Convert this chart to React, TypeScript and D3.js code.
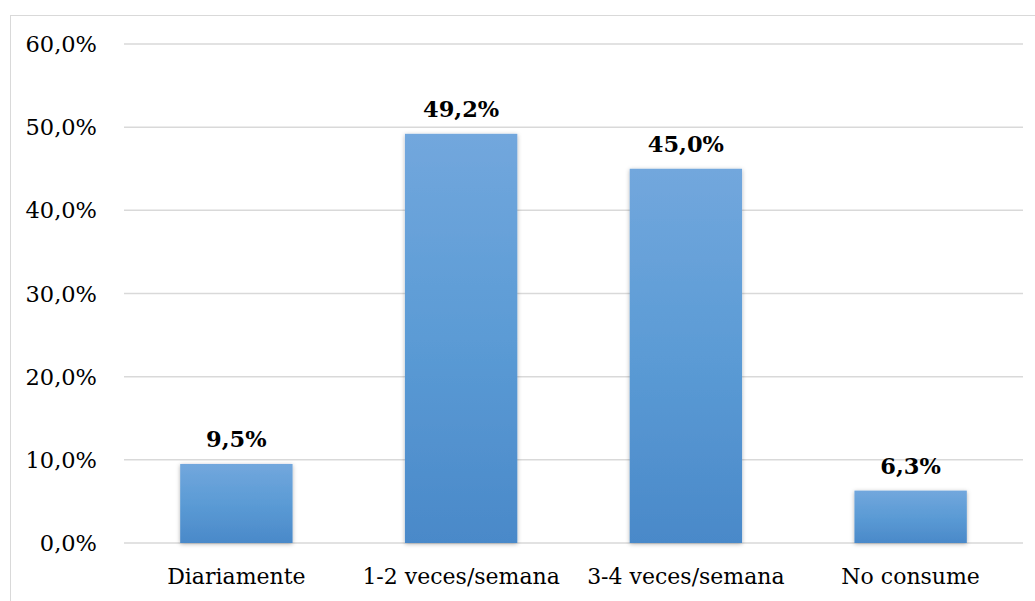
import React from "react";
import * as d3 from "d3";

const categories = ["Diariamente", "1-2 veces/semana", "3-4 veces/semana", "No consume"];
const values = [9.5, 49.2, 45.0, 6.3];
const yTicks = [0, 10, 20, 30, 40, 50, 60];

const W = 1035;
const H = 601;
const fmt = (v: number, d: number) => v.toFixed(d).replace(".", ",") + "%";

export default function App() {
  const x = d3.scaleBand<string>().domain(categories).range([124, 1023]).paddingInner(0.5).paddingOuter(0.25);
  const y = d3.scaleLinear().domain([0, 60]).range([543, 44]);
  const font = "'DejaVu Serif', serif";
  return (
    <svg width={W} height={H} style={{ position: "absolute", left: 0, top: 0, background: "#fff", fontFamily: font }}>
      <defs>
        <linearGradient id="barGrad" x1="0" y1="0" x2="0" y2="1">
          <stop offset="0%" stopColor="#72a7dd" />
          <stop offset="50%" stopColor="#5b9bd5" />
          <stop offset="100%" stopColor="#4a89c9" />
        </linearGradient>
        <filter id="shadow" x="-10%" y="-10%" width="120%" height="120%">
          <feDropShadow dx="0" dy="1" stdDeviation="2.2" floodColor="#000" floodOpacity="0.3" />
        </filter>
      </defs>
      <rect x={10.5} y={15.5} width={1040} height={620} fill="none" stroke="#d9d9d9" strokeWidth={1} />
      {yTicks.map((t) => (
        <g key={t}>
          <line x1={124} x2={1023} y1={y(t)} y2={y(t)} stroke="#d9d9d9" strokeWidth={1.5} />
          <text x={97} y={y(t)} dy="0.36em" textAnchor="end" style={{ fontFamily: font, fontSize: 22.5 }} fill="#000">
            {fmt(t, 1)}
          </text>
        </g>
      ))}
      {categories.map((c, i) => (
        <g key={c}>
          <rect
            x={x(c)!}
            y={y(values[i])}
            width={x.bandwidth()}
            height={y(0) - y(values[i])}
            fill="url(#barGrad)"
            filter="url(#shadow)"
          />
          <text
            x={x(c)! + x.bandwidth() / 2}
            y={y(values[i]) - 17}
            textAnchor="middle"
            style={{ fontFamily: font, fontSize: 22.5, fontWeight: "bold" }}
            fill="#000"
          >
            {fmt(values[i], 1)}
          </text>
          <text
            x={x(c)! + x.bandwidth() / 2}
            y={584}
            textAnchor="middle"
            style={{ fontFamily: font, fontSize: 22 }}
            fill="#000"
          >
            {c}
          </text>
        </g>
      ))}
    </svg>
  );
}
